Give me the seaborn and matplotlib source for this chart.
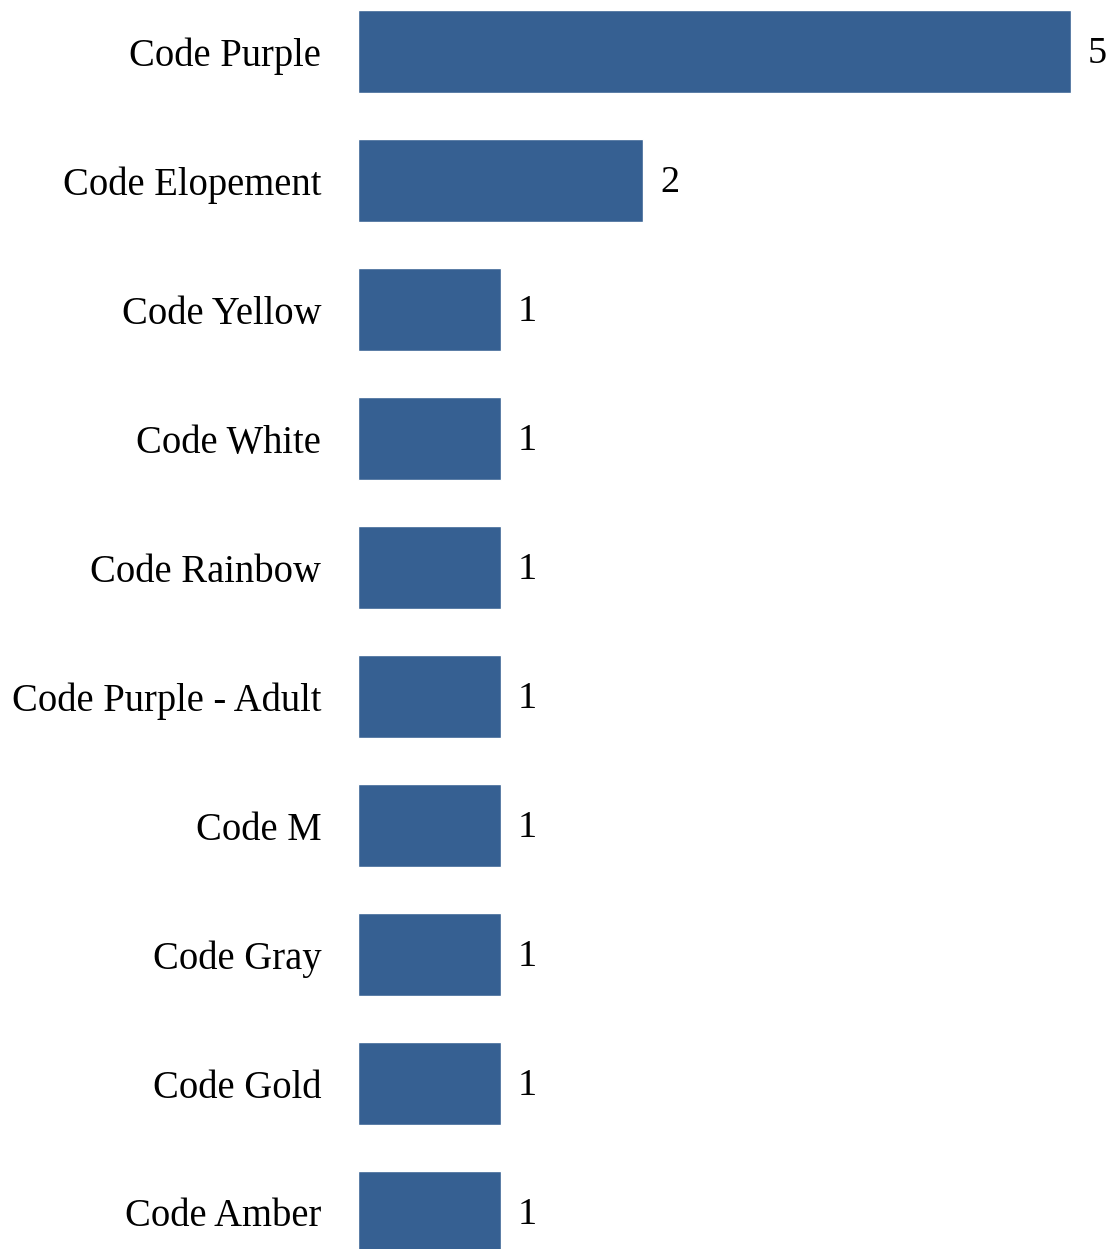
import matplotlib
matplotlib.use("Agg")
import matplotlib.pyplot as plt
import seaborn as sns
import pandas as pd

# Данные
codes = ["Code Purple", "Code Elopement", "Code Yellow", "Code White", "Code Rainbow",
         "Code Purple - Adult", "Code M", "Code Gray", "Code Gold", "Code Amber"]
counts = [5, 2, 1, 1, 1, 1, 1, 1, 1, 1]

df = pd.DataFrame({"Code": codes, "Count": counts})

sns.set_style("white")
plt.rcParams['font.family'] = ['Liberation Serif', 'DejaVu Serif']

fig = plt.figure(figsize=(11.1, 12.49), dpi=100)
ax = fig.add_axes([358 / 1110, 0, 1 - 358 / 1110, 1])

sns.barplot(data=df, x="Count", y="Code", orient="h", color="#366092",
            saturation=1, width=0.643, ax=ax)

# подписи значений
for i, v in enumerate(counts):
    ax.text(v + 0.12, i + 0.02, str(v), va="center", ha="left", fontsize=27.5, color="black")

ax.set_xlim(0, 752 / 142.6)
ax.set_ylim(9 + 36.5 / 129, -51.5 / 129)
ax.set_xlabel("")
ax.set_ylabel("")
ax.set_xticks([])
ax.tick_params(axis="y", length=0, pad=26.5, labelsize=27.8, labelcolor="black")
sns.despine(ax=ax, left=True, bottom=True)

fig.savefig("out.png", dpi=100)
